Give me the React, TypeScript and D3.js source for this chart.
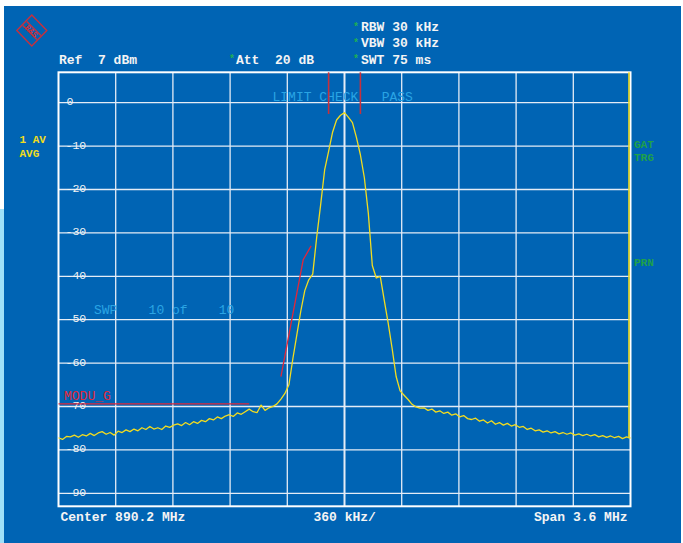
import React from 'react';
import * as d3 from 'd3';

// spectrum analyzer screenshot, 890.2 MHz carrier, averaged trace
const startMHz = 888.4;
const stopMHz = 892.0;
const stepMHz = 0.025;
const refDbm = 7;
const bottomDbm = -93;
const dbTicks = [0, -10, -20, -30, -40, -50, -60, -70, -80, -90];
const freqDivs = [888.4, 888.76, 889.12, 889.48, 889.84, 890.2, 890.56, 890.92, 891.28, 891.64, 892.0];

// trace level (dBm), one per 25 kHz
const trace = [
  -77.2, -77.6, -76.9, -77.0, -76.6, -77.1, -76.5, -76.8, -76.2, -76.7,
  -76.1, -75.8, -76.4, -76.0, -76.6, -75.7, -76.0, -75.4, -75.8, -75.2,
  -75.6, -74.9, -75.3, -74.6, -75.2, -74.9, -75.3, -74.5, -74.8, -74.3,
  -74.0, -74.4, -73.7, -74.2, -73.5, -73.9, -73.2, -73.5, -72.8, -73.1,
  -72.4, -72.8, -72.2, -71.9, -72.3, -71.5, -71.8, -71.2, -70.6, -71.2,
  -71.4, -69.7, -70.9, -70.3, -70.0, -69.4, -68.3, -67.0, -65.0, -59.0,
  -53.5, -48.0, -43.3, -40.8, -39.5, -31.0, -23.5, -15.5, -11.2, -6.8,
  -4.0, -2.9, -2.3, -3.4, -4.6, -8.0, -12.0, -17.3, -25.5, -37.5,
  -40.4, -40.0, -45.5, -50.8, -56.7, -63.1, -66.4, -67.4, -68.4, -69.5,
  -70.1, -70.4, -70.3, -70.9, -70.6, -71.3, -71.0, -71.6, -71.3, -72.0,
  -71.7, -72.4, -72.1, -72.8, -73.0, -72.7, -73.4, -73.1, -73.8, -73.3,
  -74.1, -73.7, -74.3, -73.9, -74.5, -74.2, -74.8, -74.6, -75.3, -75.0,
  -75.6, -75.4, -75.9, -75.6, -76.1, -75.8, -76.3, -76.0, -76.4, -76.1,
  -76.6, -76.3, -76.7, -76.4, -76.8, -76.5, -77.0, -76.7, -77.1, -76.8,
  -77.2, -76.9, -77.4, -77.0, -77.3,
];

// limit lines
const limitFlatMHz = [888.4, 889.6];
const limitFlatDbm = [-69.4, -69.4];
const limitSlopeMHz = [889.8, 889.94, 889.99];
const limitSlopeDbm = [-63.1, -36.2, -33.0];
const markerMHz = [890.1, 890.3];
const markerTopDbm = 7;
const markerBottomDbm = -2.6;

const BLUE = '#0064b4';
const MONO = '"Liberation Mono", "DejaVu Sans Mono", monospace';

export default function App() {
  const x = d3.scaleLinear().domain([startMHz, stopMHz]).range([58.5, 630.5]);
  const y = d3.scaleLinear().domain([refDbm, bottomDbm]).range([72.3, 506.3]);

  const pts: [number, number][] = trace.map((v, i) => [startMHz + i * stepMHz, v]);
  const line = d3.line<[number, number]>().x(d => x(d[0])).y(d => y(d[1]));
  const lastF = startMHz + (trace.length - 1) * stepMHz;

  const flat: [number, number][] = limitFlatMHz.map((f, i) => [f, limitFlatDbm[i]]);
  const slope: [number, number][] = limitSlopeMHz.map((f, i) => [f, limitSlopeDbm[i]]);

  const txt = (s: string, tx: number, ty: number, fill: string, size = 13, bold = true, anchor = 'start') => (
    <text x={tx} y={ty} fill={fill} fontSize={size} fontFamily={MONO} fontWeight={bold ? 'bold' : 'normal'}
      dominantBaseline="central" textAnchor={anchor} xmlSpace="preserve">{s}</text>
  );

  return (
    <svg width={683} height={543} style={{ position: 'absolute', left: 0, top: 0, background: '#fff' }}>
      <rect x={0} y={209} width={5} height={334} fill="#9fe0f8" />
      <rect x={4} y={6} width={677} height={537} fill={BLUE} />

      {/* R&S logo */}
      <g transform="translate(31.8,30.5)" stroke="#c8303c" fill="none" strokeWidth={1.4}>
        <polygon points="0,-15.5 15,0 0,15.5 -15,0" />
        <line x1={-9} y1={-5} x2={5} y2={9} />
        <line x1={-5} y1={-9} x2={9} y2={5} />
        <text transform="rotate(45)" x={0} y={1} fill="#c8303c" stroke="none" fontSize={8} fontFamily={MONO}
          fontWeight="bold" textAnchor="middle" dominantBaseline="central">R&amp;S</text>
      </g>

      {/* header */}
      {txt('Ref  7 dBm', 59, 60, '#f4f4f4')}
      {txt('*', 229, 59, '#1fae55', 10)}
      {txt('Att  20 dB', 236, 60, '#f4f4f4')}
      {txt('*', 353, 27, '#1fae55', 10)}
      {txt('*', 353, 43, '#1fae55', 10)}
      {txt('*', 353, 59, '#1fae55', 10)}
      {txt('RBW 30 kHz', 361, 27.7, '#f4f4f4')}
      {txt('VBW 30 kHz', 361, 43.5, '#f4f4f4')}
      {txt('SWT 75 ms', 361, 60, '#f4f4f4')}

      {/* side labels */}
      {txt('1 AV', 19.5, 140, '#f0dc1e', 11)}
      {txt('AVG', 19.5, 153.5, '#f0dc1e', 11)}
      {txt('GAT', 634, 144.5, '#1fa04a', 11)}
      {txt('TRG', 634, 158, '#1fa04a', 11)}
      {txt('PRN', 634, 263, '#1fa04a', 11)}

      {/* grid */}
      <g stroke="#e4ecf6" strokeWidth={1.3}>
        {freqDivs.slice(1, -1).map(f => (
          <line key={f} x1={x(f)} x2={x(f)} y1={y(refDbm)} y2={y(bottomDbm)}
            strokeWidth={f === 890.2 ? 2 : 1.3} />
        ))}
        {dbTicks.map(d => (
          <line key={d} x1={x(startMHz)} x2={x(stopMHz)} y1={y(d)} y2={y(d)} />
        ))}
      </g>
      <rect x={x(startMHz)} y={y(refDbm)} width={x(stopMHz) - x(startMHz)} height={y(bottomDbm) - y(refDbm)}
        fill="none" stroke="#ffffff" strokeWidth={2} />
      {dbTicks.map(d => (
        <text key={d} x={d === 0 ? 66.5 : 65.5} y={y(d) - 1} fill="#f4f4f4" fontSize={11.5} fontFamily={MONO}
          dominantBaseline="central">{d === 0 ? '0' : `-${-d}`}</text>
      ))}

      {/* overlay texts */}
      {txt('LIMIT CHECK   PASS', 272.5, 97, '#2aa4e4', 13, false)}
      {txt('SWP    10 of    10', 94, 310, '#2aa4e4', 13, false)}
      {txt('MODU_G', 64, 396, '#e0283a', 13, false)}

      {/* limit lines and markers */}
      <path d={line(flat) ?? ''} stroke="#e0283a" strokeWidth={1.3} fill="none" />
      <path d={line(slope) ?? ''} stroke="#e0283a" strokeWidth={1.3} fill="none" />
      {markerMHz.map(f => (
        <line key={f} x1={x(f)} x2={x(f)} y1={y(markerTopDbm)} y2={y(markerBottomDbm)}
          stroke="#c8303c" strokeWidth={1.6} />
      ))}

      {/* trace */}
      <path d={line(pts) ?? ''} stroke="#f2dc20" strokeWidth={1.3} fill="none" strokeLinejoin="round" />
      <line x1={x(lastF) - 1.5} x2={x(lastF) - 1.5} y1={y(trace[trace.length - 1])} y2={y(refDbm)}
        stroke="#f2dc20" strokeWidth={1.6} />

      {/* footer */}
      {txt('Center 890.2 MHz', 60.5, 517.5, '#f4f4f4')}
      {txt('360 kHz/', 313.5, 517.5, '#f4f4f4')}
      {txt('Span 3.6 MHz', 627.5, 517.5, '#f4f4f4', 13, true, 'end')}
    </svg>
  );
}
